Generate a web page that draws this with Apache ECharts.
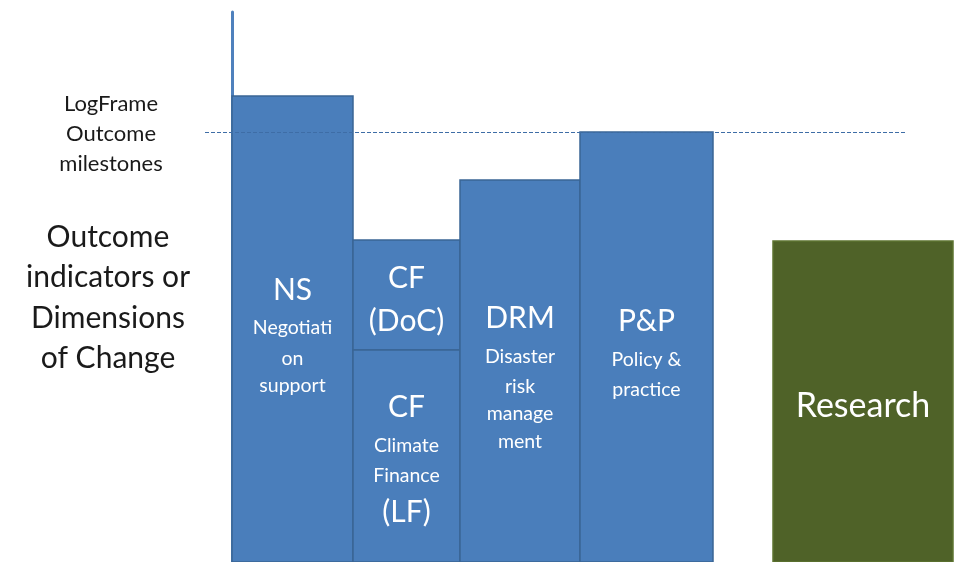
<!DOCTYPE html>
<html>
<head>
<meta charset="utf-8">
<script src="https://cdn.jsdelivr.net/npm/echarts@6/dist/echarts.min.js"></script>
<style>html,body{margin:0;padding:0;background:#fff}#chart{width:964px;height:562px}</style>
</head>
<body>
<div id="chart"></div>
<script>
// Data
const categories = ['NS', 'CF (DoC)', 'CF (LF)', 'DRM', 'P&P', 'Research'];
const titles = ['NS', 'CF\n(DoC)', 'CF', 'DRM', 'P&P', 'Research'];
const subtitles = [['Negotiati', 'on', 'support'], [], ['Climate', 'Finance'], ['Disaster', 'risk', 'manage', 'ment'], ['Policy &', 'practice'], []];
const trailers = ['', '', '(LF)', '', '', ''];
const xStart = [0, 121, 121, 228, 348, 541];
const xEnd = [121, 228, 228, 348, 481, 721];
const yBottom = [0, 212, 0, 0, 0, 0];
const yTop = [466, 322, 212, 382, 430, 321];
const groups = ['outcome', 'outcome', 'outcome', 'outcome', 'outcome', 'research'];
const milestoneLevel = 430;
const milestoneFrom = -27;
const milestoneTo = 673;
const leftSmall = 'LogFrame\nOutcome\nmilestones';
const leftBig = 'Outcome\nindicators or\nDimensions\nof Change';

const FONT = 'Lato';
const colors = { outcome: { fill: '#4A7EBB', border: '#3A6595' }, research: { fill: '#4F6228', border: '#5E7430' } };

const data = categories.map((c, i) => [xStart[i], xEnd[i], yBottom[i], yTop[i], i]);

function labelText(i) {
  const parts = [];
  titles[i].split('\n').forEach(t => parts.push('{t' + (groups[i] === 'research' ? 'r' : '') + '|' + t + '}'));
  subtitles[i].forEach((s, k) => parts.push('{' + (k === 0 ? 's1' : 's') + '|' + s + '}'));
  if (trailers[i]) parts.push('{tl|' + trailers[i] + '}');
  return parts.join('\n');
}

const chart = echarts.init(document.getElementById('chart'));
chart.setOption({
  animation: false,
  backgroundColor: '#ffffff',
  title: [
    { text: leftSmall, left: 106, top: 84, textAlign: 'center',
      textStyle: { fontFamily: FONT, fontSize: 22, fontWeight: 'normal', color: '#1a1a1a', lineHeight: 30, align: 'center' } },
    { text: leftBig, left: 103, top: 212, textAlign: 'center',
      textStyle: { fontFamily: FONT, fontSize: 30, fontWeight: 'normal', color: '#1a1a1a', lineHeight: 40.5, align: 'center' } }
  ],
  grid: { left: 0, right: 0, top: 12, bottom: 0 },
  xAxis: { type: 'value', min: -232, max: 732, show: true,
    axisLine: { show: false }, axisTick: { show: false }, axisLabel: { show: false }, splitLine: { show: false } },
  yAxis: { type: 'value', min: 0, max: 550,
    axisLine: { show: true, onZero: true, lineStyle: { color: '#4F81BD', width: 3 } },
    axisTick: { show: false }, axisLabel: { show: false }, splitLine: { show: false } },
  series: [{
    type: 'custom',
    clip: false,
    data: data,
    encode: { x: [0, 1], y: [2, 3] },
    renderItem: function (params, api) {
      const i = api.value(4);
      const p0 = api.coord([api.value(0), api.value(3)]);
      const p1 = api.coord([api.value(1), api.value(2)]);
      const col = colors[groups[i]];
      return {
        type: 'rect',
        shape: { x: p0[0], y: p0[1], width: p1[0] - p0[0], height: p1[1] - p0[1] },
        style: { fill: col.fill, stroke: col.border, lineWidth: 1.5 },
        textContent: {
          style: {
            text: labelText(i),
            fill: '#ffffff',
            align: 'center',
            fontFamily: FONT,
            rich: {
              t: { fontFamily: FONT, fontSize: 30, lineHeight: 43, color: '#f6f9fd', align: 'center' },
              tl: { fontFamily: FONT, fontSize: 30, lineHeight: 46, color: '#f6f9fd', align: 'center' },
              tr: { fontFamily: FONT, fontSize: 34, lineHeight: 43, color: '#f6f9fd', align: 'center' },
              s1: { fontFamily: FONT, fontSize: 19.5, lineHeight: 33, color: '#eef3fa', align: 'center' },
              s: { fontFamily: FONT, fontSize: 19.5, lineHeight: 27.5, color: '#eef3fa', align: 'center' }
            }
          }
        },
        textConfig: { position: 'inside', offset: [0, 5] }
      };
    },
    markLine: {
      silent: true,
      symbol: 'none',
      label: { show: false },
      lineStyle: { color: '#3E6DA6', type: 'dashed', width: 1 },
      data: [[{ coord: [milestoneFrom, milestoneLevel] }, { coord: [milestoneTo, milestoneLevel] }]]
    }
  }]
});
</script>
</body>
</html>
